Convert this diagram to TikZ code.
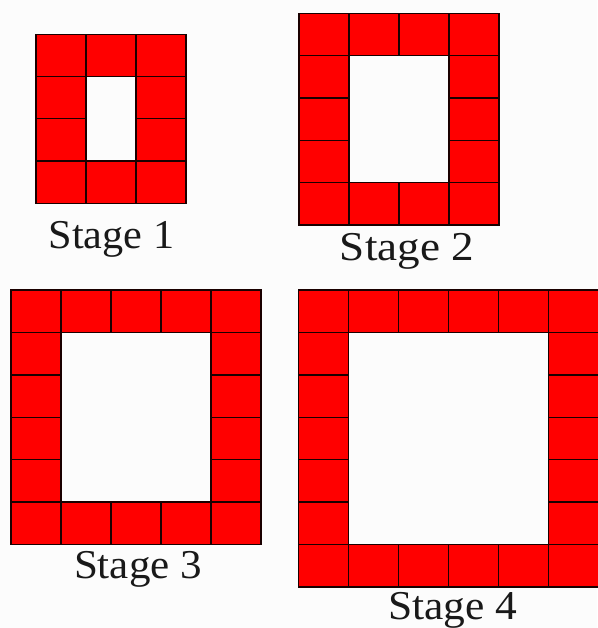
\documentclass[tikz,border=0pt]{standalone}
\usepackage{fontspec}
\setmainfont{Liberation Serif}
\definecolor{tilered}{HTML}{FF0000}
\definecolor{tileedge}{HTML}{1A0000}
\definecolor{bgcol}{HTML}{FCFCFC}
\tikzset{
  tilebox/.style={fill=tilered, draw=tileedge, line width=1.4pt},
  stagelabel/.style={anchor=base, inner sep=0pt, text=black!90, font=\fontsize{41}{41}\selectfont}
}
\newcommand\tileframe[6]{%
  \pgfmathtruncatemacro\lastc{#5-1}%
  \pgfmathtruncatemacro\lastr{#6-1}%
  \pgfmathtruncatemacro\midr{#6-2}%
  \foreach \c in {0,...,\lastc}{%
    \draw[tilebox] ({#1+\c*#3},{#2}) rectangle ++(#3,#4);
    \draw[tilebox] ({#1+\c*#3},{#2+\lastr*#4}) rectangle ++(#3,#4);
  }%
  \foreach \r in {1,...,\midr}{%
    \draw[tilebox] ({#1},{#2+\r*#4}) rectangle ++(#3,#4);
    \draw[tilebox] ({#1+\lastc*#3},{#2+\r*#4}) rectangle ++(#3,#4);
  }%
}
\begin{document}
\begin{tikzpicture}[x=1pt,y=-1pt]
\fill[bgcol] (0,0) rectangle (597,628);
\useasboundingbox (0,0) rectangle (597,628);
\tileframe{36}{34.3}{50}{42.25}{3}{4}
\tileframe{299}{13.3}{50}{42.35}{4}{5}
\tileframe{11}{290}{50}{42.4}{5}{6}
\tileframe{298.5}{290}{50}{42.4}{6}{7}
\node[stagelabel, xscale=1.03] (l1) at (111.5,248) {Stage 1};
\node[stagelabel, xscale=1.1] (l2) at (407,260) {Stage 2};
\node[stagelabel, xscale=1.05] (l3) at (138,578) {Stage 3};
\node[stagelabel, xscale=1.06] (l4) at (453,619) {Stage 4};
\end{tikzpicture}
\end{document}
